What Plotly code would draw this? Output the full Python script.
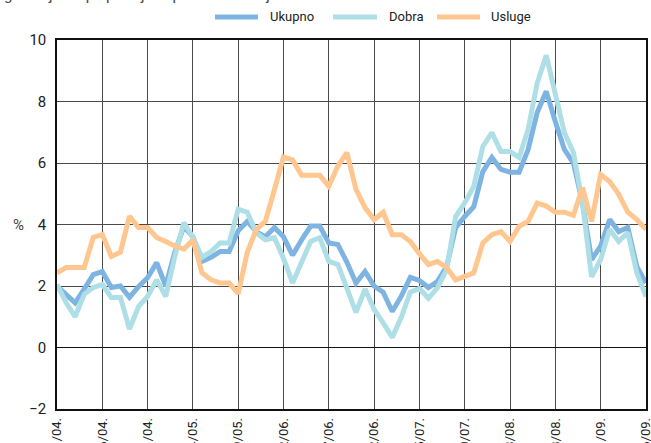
import plotly.graph_objects as go

# ---- data ----
tick_labels = ["1/04.", "6/04.", "11/04.", "4/05.", "9/05.", "2/06.", "7/06.",
               "12/06.", "5/07.", "10/07.", "3/08.", "8/08.", "1/09.", "6/09."]

ukupno = [2.0, 1.73, 1.45, 1.9, 2.37, 2.47, 1.95, 2.0, 1.63, 1.98, 2.27, 2.76, 2.0, 3.1,
          3.93, 3.6, 2.8, 2.93, 3.12, 3.12, 3.8, 4.1, 3.77, 3.6, 3.9, 3.6, 3.0, 3.5,
          3.95, 3.95, 3.4, 3.35, 2.77, 2.1, 2.47, 2.0, 1.8, 1.17, 1.67, 2.28, 2.18,
          1.95, 2.15, 2.63, 3.9, 4.26, 4.58, 5.72, 6.18, 5.79, 5.7, 5.7, 6.44, 7.64,
          8.33, 7.35, 6.44, 6.0, 4.7, 2.86, 3.3, 4.16, 3.77, 3.9, 2.63, 2.1]

dobra = [2.05, 1.46, 1.0, 1.73, 1.95, 2.05, 1.63, 1.63, 0.6, 1.33, 1.66, 2.2, 1.66, 2.96,
         4.06, 3.58, 2.93, 3.12, 3.4, 3.4, 4.5, 4.4, 3.73, 3.5, 3.57, 2.9, 2.1, 2.77,
         3.45, 3.57, 2.8, 2.7, 1.9, 1.14, 1.9, 1.24, 0.8, 0.33, 0.98, 1.8, 1.92,
         1.6, 1.95, 2.53, 4.26, 4.7, 5.24, 6.54, 6.99, 6.37, 6.37, 6.18, 7.09, 8.6,
         9.5, 8.3, 6.99, 6.34, 4.7, 2.3, 2.86, 3.84, 3.45, 3.74, 2.43, 1.66]

usluge = [2.43, 2.6, 2.6, 2.6, 3.58, 3.67, 2.96, 3.1, 4.27, 3.9, 3.9, 3.58, 3.45, 3.3,
          3.2, 3.5, 2.43, 2.2, 2.1, 2.1, 1.75, 3.1, 3.84, 4.1, 5.14, 6.2, 6.1, 5.6,
          5.6, 5.6, 5.24, 5.9, 6.34, 5.14, 4.55, 4.16, 4.4, 3.67, 3.67, 3.45, 3.05,
          2.7, 2.8, 2.6, 2.2, 2.3, 2.43, 3.4, 3.67, 3.77, 3.45, 3.94, 4.1, 4.7,
          4.6, 4.4, 4.4, 4.3, 5.2, 4.1, 5.63, 5.4, 4.98, 4.4, 4.16, 3.84]

series_names = ["Ukupno", "Dobra", "Usluge"]
series_colors = ["#7EB4E2", "#AEDFE7", "#FFC68F"]

months = list(range(len(ukupno)))
tick_vals = list(range(0, len(ukupno), 5))

# ---- layout geometry ----
W, H = 651, 443
ML, MR, MT, MB = 57, 5, 40, 34
PW, PH = W - ML - MR, H - MT - MB

def px_x(p):
    return (p - ML) / PW

def px_y(p):
    return (H - MB - p) / PH

FONT = "Roboto, Liberation Sans, sans-serif"

fig = go.Figure()
for name, vals, col in zip(series_names, [ukupno, dobra, usluge], series_colors):
    fig.add_trace(go.Scatter(x=months, y=vals, mode="lines", name=name,
                             line=dict(color=col, width=5), showlegend=False,
                             hoverinfo="skip"))

grid_col = "#4a4a4a"
fig.update_layout(
    width=W, height=H,
    margin=dict(l=ML, r=MR, t=MT, b=MB, autoexpand=False),
    paper_bgcolor="white", plot_bgcolor="white",
    font=dict(family=FONT, size=14, color="#222"),
    xaxis=dict(range=[0, len(ukupno) - 1 + 0.01], tickmode="array", tickvals=tick_vals,
               ticktext=tick_labels, tickangle=-90, showgrid=True, gridcolor=grid_col,
               gridwidth=1, zeroline=False, showline=True, linecolor="#111",
               linewidth=1.5, mirror=True, ticks="", automargin=False,
               ticklabelstandoff=2, ticklabeloverflow="allow",
               tickfont=dict(family=FONT, size=13, color="#222")),
    yaxis=dict(range=[-2, 10], tickmode="array", tickvals=[-2, 0, 2, 4, 6, 8, 10],
               showgrid=True, gridcolor=grid_col, gridwidth=1, zeroline=True,
               zerolinecolor="#111", zerolinewidth=1.2, showline=True,
               linecolor="#111", linewidth=1.5, mirror=True, ticks="",
               ticklabelstandoff=6, automargin=False,
               tickfont=dict(family=FONT, size=15, color="#222")),
)

# "%" axis label
fig.add_annotation(x=px_x(18), y=4, xref="paper", yref="y", text="%",
                   showarrow=False, font=dict(family=FONT, size=15, color="#444"),
                   xanchor="center", yanchor="middle")

# Partially visible title at the very top (only descenders show)
fig.add_annotation(x=px_x(2), y=px_y(-5), xref="paper", yref="paper",
                   text="godišnja stopa promjene potrošačkih cijena",
                   showarrow=False, xanchor="left", yanchor="middle",
                   font=dict(family=FONT, size=15, color="#444"))

# Custom legend
legend_items = [(215, 258, 268), (333, 377, 387), (437, 480, 489)]
ly = px_y(17)
for (x0, x1, tx), name, col in zip(legend_items, series_names, series_colors):
    fig.add_shape(type="line", xref="paper", yref="paper",
                  x0=px_x(x0), x1=px_x(x1), y0=ly, y1=ly,
                  line=dict(color=col, width=5))
    fig.add_annotation(x=px_x(tx), y=ly, xref="paper", yref="paper", text=name,
                       showarrow=False, xanchor="left", yanchor="middle",
                       font=dict(family=FONT, size=13, color="#222"))

fig.write_html("out.html", config={"displayModeBar": False},
               post_script="document.body.style.margin='0';")
